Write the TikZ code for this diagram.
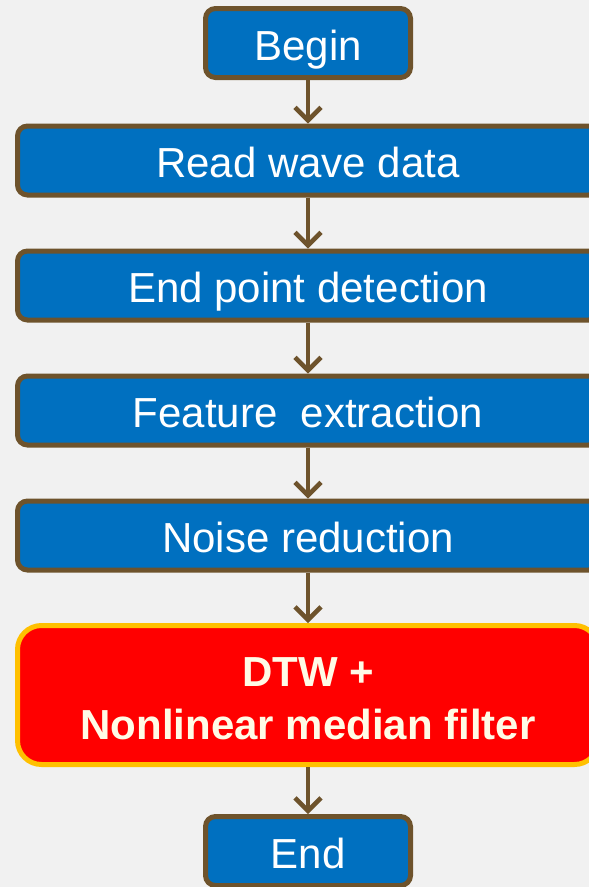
\documentclass[tikz,border=0pt]{standalone}
\usepackage{fontspec}
\setmainfont{Liberation Sans}
\usetikzlibrary{arrows.meta}
\definecolor{bgc}{HTML}{F1F1F1}
\definecolor{boxblue}{HTML}{0070C0}
\definecolor{brownc}{HTML}{6E532C}
\definecolor{redc}{HTML}{FF0000}
\definecolor{orangec}{HTML}{FFC000}
\definecolor{glowc}{HTML}{FFFBE6}
\tikzset{
  stepbox/.style={draw=brownc, line width=5pt, fill=boxblue, rounded corners=10pt,
    text=white, font=\fontsize{42}{50}\selectfont, minimum height=69pt, inner sep=0pt,
    text height=38pt, text depth=4pt},
  wide/.style={stepbox, minimum width=581pt},
  narrow/.style={stepbox, minimum width=205pt},
  hot/.style={draw=orangec, line width=5pt, fill=redc, rounded corners=24pt,
    text=glowc, font=\fontsize{42}{53}\selectfont\bfseries, minimum width=581pt,
    minimum height=139pt, align=center, inner sep=0pt},
  arr/.style={draw=brownc, line width=4.5pt, -{Straight Barb[length=13pt,width=26pt,line width=4.5pt]}}
}
\begin{document}
\begin{tikzpicture}[x=1pt,y=-1pt]
\useasboundingbox (0,0) rectangle (589,887);
\clip (0,0) rectangle (589,887);
\fill[bgc] (0,0) rectangle (589,887);
\node[narrow] (begin) at (308,43) {Begin};
\node[wide] (read) at (308,160.5) {Read wave data};
\node[wide] (endpt) at (308,285.5) {End point detection};
\node[wide] (feat) at (308,410.5) {Feature~~extraction};
\node[wide] (noise) at (308,535.5) {Noise reduction};
\node[hot] (dtw) at (308,695) {\rule{0pt}{36pt}DTW +\\Nonlinear median filter};
\node[narrow] (end) at (308,851) {End};
\draw[arr] (begin) -- (read);
\draw[arr] (read) -- (endpt);
\draw[arr] (endpt) -- (feat);
\draw[arr] (feat) -- (noise);
\draw[arr] (noise) -- (dtw);
\draw[arr] (dtw) -- (end);
\end{tikzpicture}
\end{document}
